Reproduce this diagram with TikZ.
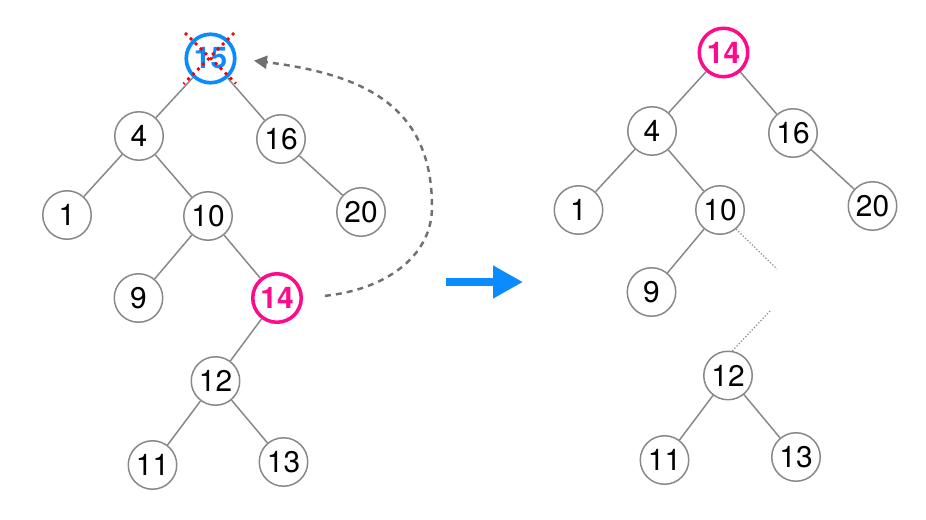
\documentclass[tikz,border=0pt]{standalone}
\usepackage{fontspec}
\setmainfont{TeX Gyre Heros}
\usepackage{tikz}
\usetikzlibrary{arrows.meta}
\usepackage{xcolor}
\definecolor{edgegray}{RGB}{136,136,140}
\definecolor{hotpink}{RGB}{255,10,140}
\definecolor{skyblue}{RGB}{10,140,255}
\definecolor{crossred}{RGB}{250,0,0}
\definecolor{curvegray}{RGB}{112,112,112}

\begin{document}
\begin{tikzpicture}[
    x=0.02cm, y=-0.02cm,
    key/.style={circle, draw=edgegray, line width=0.85pt, fill=white, minimum size=0.97cm, inner sep=0pt, font=\fontsize{17}{20}\selectfont},
    hot/.style={key, draw=hotpink, text=hotpink, line width=2pt, font=\fontsize{17}{20}\selectfont\bfseries},
    gone/.style={key, draw=skyblue, text=skyblue, line width=2.1pt, font=\fontsize{17}{20}\selectfont\bfseries},
    edge/.style={draw=edgegray, line width=0.85pt},
    cut/.style={draw=edgegray, line width=0.7pt, dash pattern=on 0.7pt off 1.1pt},
    cross/.style={draw=crossred, line width=1.6pt, dash pattern=on 1.6pt off 2.4pt},
    back/.style={draw=curvegray, line width=1.4pt, dash pattern=on 3.4pt off 2.9pt, -{Triangle[length=0.26cm, width=0.26cm]}},
    move/.style={draw=skyblue, line width=0.16cm, -{Triangle[length=0.6cm, width=0.62cm]}}
]
\useasboundingbox (0,0) rectangle (926,520);

% tree before the delete
\node[gone] (l15) at (210.5,58.5) {15};
\node[key] (l4) at (139,136) {4};
\node[key] (l16) at (281,139) {16};
\node[key] (l1) at (67,215) {1};
\node[key] (l10) at (208,216) {10};
\node[key] (l20) at (361,212) {20};
\node[key] (l9) at (138.5,298) {9};
\node[hot] (l14) at (277,298) {14};
\node[key] (l12) at (215.5,381) {12};
\node[key] (l11) at (152.5,465) {11};
\node[key] (l13) at (283.5,462) {13};

\draw[edge] (l15) -- (l4);
\draw[edge] (l15) -- (l16);
\draw[edge] (l4) -- (l1);
\draw[edge] (l4) -- (l10);
\draw[edge] (l16) -- (l20);
\draw[edge] (l10) -- (l9);
\draw[edge] (l10) -- (l14);
\draw[edge] (l14) -- (l12);
\draw[edge] (l12) -- (l11);
\draw[edge] (l12) -- (l13);

% crossed out root
\draw[cross] ([shift={(-25.5,-25.5)}]l15.center) -- ([shift={(25.5,25)}]l15.center);
\draw[cross] ([shift={(23.5,-25.5)}]l15.center) -- ([shift={(-27,25.5)}]l15.center);

% successor moves up
\draw[back, shorten <=0.44cm, shorten >=0.35cm] (l14.east)
    .. controls (383,290) and (432,258) .. (432,207)
    .. controls (432,110) and (370,75) .. (l15.east);

\coordinate (go0) at (446,282);
\coordinate (go1) at (523,282);
\draw[move] (go0) -- (go1);

% tree after the delete
\node[hot] (r14) at (723.5,52.5) {14};
\node[key] (r4) at (652,131) {4};
\node[key] (r16) at (793,133) {16};
\node[key] (r1) at (578.5,210) {1};
\node[key] (r10) at (720,210) {10};
\node[key] (r20) at (872.5,206) {20};
\node[key] (r9) at (651.5,292) {9};
\node[key] (r12) at (728,375.5) {12};
\node[key] (r11) at (664.5,460) {11};
\node[key] (r13) at (796,457) {13};

\draw[edge] (r14) -- (r4);
\draw[edge] (r14) -- (r16);
\draw[edge] (r4) -- (r1);
\draw[edge] (r4) -- (r10);
\draw[edge] (r16) -- (r20);
\draw[edge] (r10) -- (r9);
\draw[edge] (r12) -- (r11);
\draw[edge] (r12) -- (r13);

\coordinate (gap1) at (777,269);
\coordinate (gap2) at (771,310);
\draw[cut] (r10.-50) -- (gap1);
\draw[cut] (r12.80) -- (gap2);

\end{tikzpicture}
\end{document}
